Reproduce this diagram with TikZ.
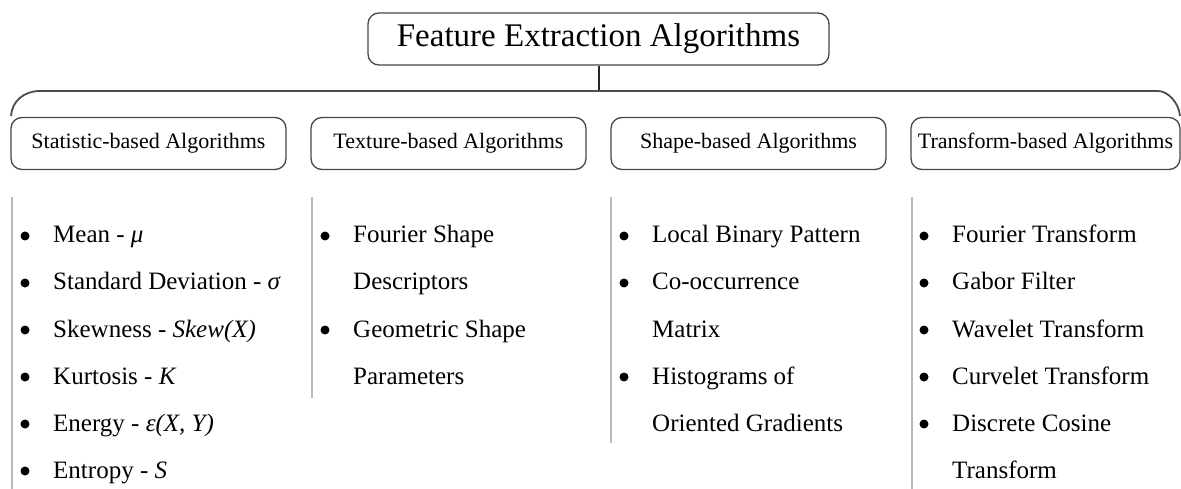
\documentclass[tikz,border=0pt]{standalone}
\usepackage{fontspec}
\setmainfont{Liberation Serif}
\begin{document}
\begin{tikzpicture}[x=1pt,y=-1pt,
  box/.style={draw=black!72,line width=1.3pt,rounded corners=11pt,inner sep=0pt,
    minimum height=52pt,text=black},
  rootbox/.style={box,minimum width=461pt,minimum height=52pt,font=\fontsize{33}{38}\selectfont},
  catbox/.style={box,minimum width=275pt,font=\fontsize{22}{26}\selectfont},
  bracket/.style={draw=black!70,line width=1.8pt},
  stem/.style={draw=black!85,line width=2pt},
  sep/.style={draw=black!28,line width=1.4pt},
  item/.style={anchor=base west,inner sep=0pt,font=\fontsize{25}{30}\selectfont},
  dot/.style={circle,fill=black,inner sep=0pt,minimum size=9pt}
]
\useasboundingbox (0,0) rectangle (1181,489);

% root and category boxes
\node[rootbox] (root) at (598.5,39) {Feature Extraction Algorithms};
\node[catbox] (stat) at (148.5,143.5) {Statistic-based Algorithms};
\node[catbox] (tex)  at (448.5,143.5) {Texture-based Algorithms};
\node[catbox] (shp)  at (748.5,143.5) {Shape-based Algorithms};
\node[catbox,minimum width=269pt] (trf) at (1045.5,143.5) {Transform-based Algorithms};

% bracket joining the categories
\coordinate (j) at (root.south |- 0,91);
\coordinate (bl) at (11,116);
\coordinate (br) at (1180,116);
\draw[stem] (root.south) -- (j);
\draw[bracket] (bl) .. controls (12,101) and (24,91) .. (40,91) -- (1158,91)
  .. controls (1168,91) and (1179,103) .. (br);

% column separators
\coordinate (s1t) at (12,197);  \coordinate (s1b) at (12,489);
\coordinate (s2t) at (312,197); \coordinate (s2b) at (312,398);
\coordinate (s3t) at (611,197); \coordinate (s3b) at (611,443);
\coordinate (s4t) at (912,197); \coordinate (s4b) at (912,489);
\draw[sep] (s1t) -- (s1b);
\draw[sep] (s2t) -- (s2b);
\draw[sep] (s3t) -- (s3b);
\draw[sep] (s4t) -- (s4b);

% statistic-based
\node[dot] (b11) at (25,236) {};
\node[item] (t11) at (53,243) {Mean - \textit{μ}};
\node[dot] (b12) at (25,283) {};
\node[item] (t12) at (53,290) {Standard Deviation - \textit{σ}};
\node[dot] (b13) at (25,330) {};
\node[item] (t13) at (53,337) {Skewness - \textit{Skew(X)}};
\node[dot] (b14) at (25,377) {};
\node[item] (t14) at (53,384) {Kurtosis - \textit{K}};
\node[dot] (b15) at (25,424) {};
\node[item] (t15) at (53,431) {Energy - \textit{ε(X, Y)}};
\node[dot] (b16) at (25,471) {};
\node[item] (t16) at (53,478) {Entropy - \textit{S}};

% texture-based
\node[dot] (b21) at (325,236) {};
\node[item] (t21) at (353,243) {Fourier Shape};
\node[item] (t22) at (353,290) {Descriptors};
\node[dot] (b23) at (325,330) {};
\node[item] (t23) at (353,337) {Geometric Shape};
\node[item] (t24) at (353,384) {Parameters};

% shape-based
\node[dot] (b31) at (624,236) {};
\node[item] (t31) at (652,243) {Local Binary Pattern};
\node[dot] (b32) at (624,283) {};
\node[item] (t32) at (652,290) {Co-occurrence};
\node[item] (t33) at (652,337) {Matrix};
\node[dot] (b34) at (624,377) {};
\node[item] (t34) at (652,384) {Histograms of};
\node[item] (t35) at (652,431) {Oriented Gradients};

% transform-based
\node[dot] (b41) at (924,236) {};
\node[item] (t41) at (952,243) {Fourier Transform};
\node[dot] (b42) at (924,283) {};
\node[item] (t42) at (952,290) {Gabor Filter};
\node[dot] (b43) at (924,330) {};
\node[item] (t43) at (952,337) {Wavelet Transform};
\node[dot] (b44) at (924,377) {};
\node[item] (t44) at (952,384) {Curvelet Transform};
\node[dot] (b45) at (924,424) {};
\node[item] (t45) at (952,431) {Discrete Cosine};
\node[item] (t46) at (952,478) {Transform};
\end{tikzpicture}
\end{document}
